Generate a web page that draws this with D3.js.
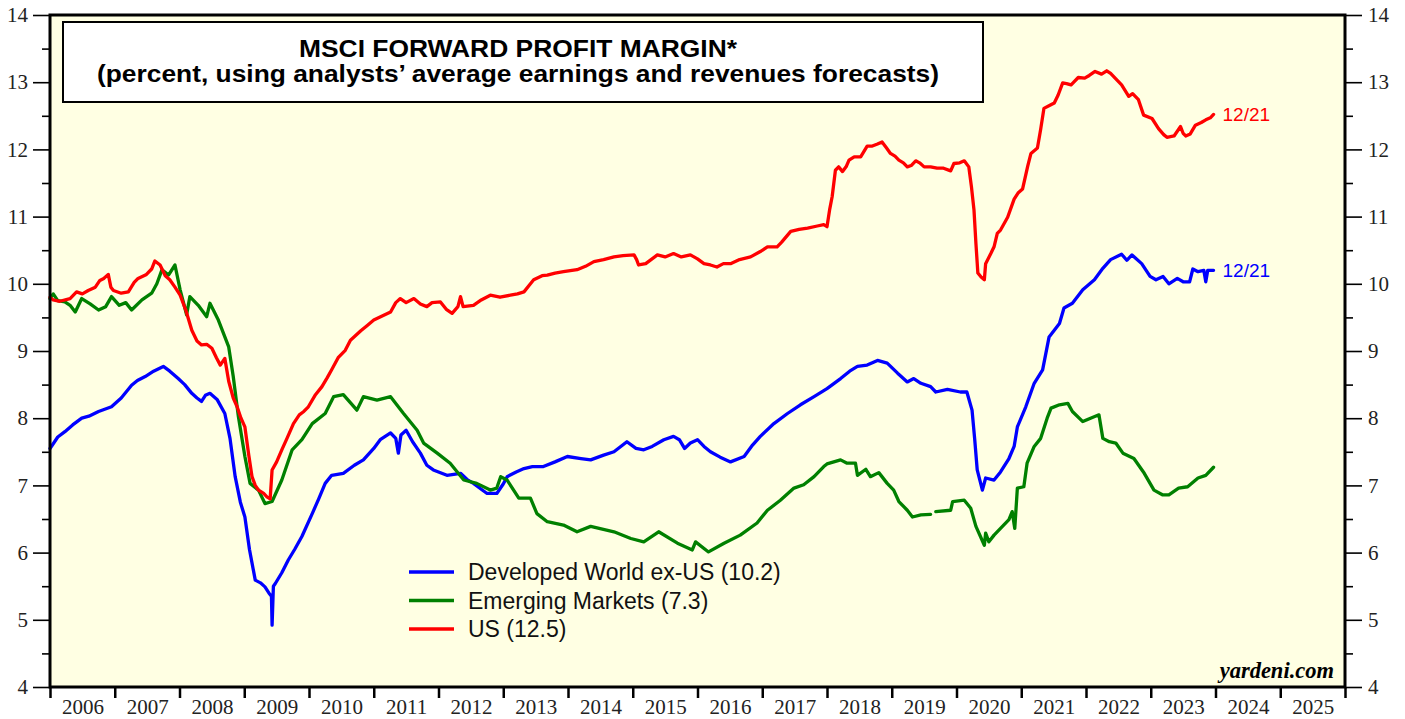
<!DOCTYPE html>
<html>
<head>
<meta charset="utf-8">
<script src="https://cdn.jsdelivr.net/npm/d3@7"></script>
<style>
  body { margin: 0; background: #fff; }
  svg { display: block; }
</style>
</head>
<body>
<div id="chart"></div>
<script>
// chart size
var svgWidth = 1405;
var svgHeight = 719;

// data: [decimal year, percent]
var usData = [
  [2006.00,9.80],[2006.05,9.76],[2006.15,9.74],[2006.31,9.78],[2006.41,9.88],[2006.50,9.85],[2006.59,9.90],
  [2006.70,9.95],[2006.77,10.05],[2006.83,10.08],[2006.90,10.14],[2006.94,9.95],[2006.98,9.90],[2007.10,9.86],
  [2007.21,9.88],[2007.30,10.02],[2007.36,10.08],[2007.49,10.14],[2007.57,10.22],[2007.62,10.34],[2007.70,10.28],
  [2007.78,10.12],[2007.85,10.06],[2007.93,9.95],[2008.01,9.83],[2008.10,9.60],[2008.19,9.31],[2008.27,9.15],
  [2008.34,9.09],[2008.42,9.10],[2008.50,9.04],[2008.57,8.90],[2008.63,8.79],[2008.70,8.89],[2008.76,8.55],
  [2008.83,8.30],[2008.89,8.17],[2008.95,8.00],[2009.01,7.87],[2009.07,7.45],[2009.12,7.13],[2009.17,7.00],
  [2009.22,6.93],[2009.30,6.88],[2009.35,6.83],[2009.40,6.80],[2009.43,7.23],[2009.50,7.35],[2009.58,7.53],
  [2009.66,7.70],[2009.76,7.92],[2009.85,8.05],[2009.92,8.10],[2009.99,8.17],[2010.10,8.35],[2010.20,8.47],
  [2010.28,8.60],[2010.35,8.72],[2010.45,8.90],[2010.56,9.01],[2010.64,9.16],[2010.80,9.30],[2010.90,9.38],
  [2011.00,9.46],[2011.13,9.52],[2011.26,9.58],[2011.34,9.72],[2011.41,9.78],[2011.50,9.72],[2011.62,9.78],
  [2011.72,9.70],[2011.82,9.66],[2011.90,9.72],[2012.03,9.73],[2012.12,9.62],[2012.21,9.56],[2012.30,9.66],
  [2012.34,9.81],[2012.38,9.66],[2012.54,9.68],[2012.66,9.76],[2012.80,9.83],[2012.95,9.80],[2013.11,9.83],
  [2013.22,9.85],[2013.32,9.88],[2013.42,10.00],[2013.47,10.06],[2013.60,10.12],[2013.68,10.13],[2013.80,10.16],
  [2013.93,10.18],[2014.14,10.21],[2014.27,10.26],[2014.40,10.33],[2014.55,10.36],[2014.71,10.40],[2014.85,10.42],
  [2015.02,10.43],[2015.06,10.36],[2015.09,10.28],[2015.20,10.30],[2015.38,10.43],[2015.50,10.40],[2015.63,10.45],
  [2015.75,10.40],[2015.89,10.43],[2016.00,10.37],[2016.10,10.30],[2016.20,10.28],[2016.30,10.25],[2016.40,10.30],
  [2016.51,10.30],[2016.65,10.36],[2016.82,10.40],[2016.97,10.48],[2017.08,10.55],[2017.23,10.55],[2017.30,10.62],
  [2017.44,10.78],[2017.57,10.81],[2017.70,10.83],[2017.85,10.86],[2017.95,10.88],[2018.00,10.85],[2018.04,11.10],
  [2018.08,11.30],[2018.13,11.69],[2018.18,11.74],[2018.24,11.67],[2018.30,11.75],[2018.34,11.84],[2018.42,11.89],
  [2018.52,11.89],[2018.62,12.05],[2018.70,12.05],[2018.78,12.08],[2018.85,12.11],[2018.92,12.02],[2018.98,11.94],
  [2019.05,11.90],[2019.11,11.84],[2019.18,11.80],[2019.24,11.74],[2019.30,11.76],[2019.37,11.83],[2019.43,11.80],
  [2019.50,11.74],[2019.60,11.74],[2019.70,11.72],[2019.80,11.72],[2019.91,11.68],[2019.96,11.79],[2020.05,11.80],
  [2020.12,11.83],[2020.19,11.74],[2020.23,11.45],[2020.27,11.10],[2020.30,10.60],[2020.33,10.16],[2020.38,10.10],
  [2020.43,10.06],[2020.45,10.30],[2020.53,10.45],[2020.58,10.55],[2020.63,10.75],[2020.68,10.80],[2020.79,10.99],
  [2020.89,11.26],[2020.95,11.35],[2021.02,11.41],[2021.10,11.75],[2021.15,11.94],[2021.25,12.02],[2021.30,12.30],
  [2021.35,12.61],[2021.45,12.66],[2021.51,12.69],[2021.57,12.81],[2021.64,12.99],[2021.70,12.98],[2021.77,12.96],
  [2021.88,13.07],[2021.98,13.06],[2022.05,13.10],[2022.14,13.16],[2022.24,13.12],[2022.32,13.17],[2022.38,13.13],
  [2022.45,13.06],[2022.55,12.96],[2022.66,12.79],[2022.72,12.83],[2022.81,12.74],[2022.89,12.51],[2023.02,12.46],
  [2023.12,12.31],[2023.20,12.22],[2023.25,12.18],[2023.36,12.20],[2023.46,12.34],[2023.50,12.24],[2023.54,12.20],
  [2023.61,12.23],[2023.69,12.36],[2023.78,12.40],[2023.85,12.44],[2023.92,12.47],[2023.97,12.52]
];

var dwData = [
  [2006.00,7.55],[2006.05,7.62],[2006.12,7.72],[2006.23,7.80],[2006.35,7.90],[2006.49,8.00],[2006.60,8.03],
  [2006.75,8.10],[2006.95,8.17],[2007.10,8.30],[2007.26,8.49],[2007.35,8.56],[2007.47,8.62],[2007.60,8.70],
  [2007.75,8.77],[2007.85,8.70],[2007.98,8.59],[2008.08,8.50],[2008.19,8.37],[2008.27,8.30],[2008.34,8.25],
  [2008.40,8.34],[2008.47,8.37],[2008.58,8.28],[2008.70,8.07],[2008.78,7.70],[2008.86,7.13],[2008.94,6.75],
  [2009.01,6.53],[2009.08,6.05],[2009.17,5.59],[2009.25,5.55],[2009.32,5.49],[2009.38,5.40],[2009.42,5.35],
  [2009.43,4.92],[2009.45,5.50],[2009.48,5.54],[2009.58,5.70],[2009.68,5.89],[2009.78,6.05],[2009.89,6.24],
  [2010.05,6.58],[2010.15,6.80],[2010.25,7.03],[2010.35,7.15],[2010.53,7.18],[2010.70,7.30],[2010.84,7.38],
  [2011.00,7.55],[2011.10,7.68],[2011.26,7.78],[2011.34,7.70],[2011.38,7.48],[2011.42,7.75],[2011.50,7.82],
  [2011.60,7.65],[2011.72,7.48],[2011.82,7.30],[2011.92,7.23],[2012.13,7.15],[2012.34,7.18],[2012.45,7.08],
  [2012.54,7.03],[2012.65,6.95],[2012.75,6.88],[2012.90,6.88],[2013.00,7.02],[2013.06,7.13],[2013.20,7.20],
  [2013.32,7.25],[2013.45,7.28],[2013.62,7.28],[2013.80,7.35],[2013.99,7.43],[2014.20,7.40],[2014.35,7.38],
  [2014.55,7.45],[2014.71,7.50],[2014.91,7.65],[2015.05,7.55],[2015.17,7.53],[2015.30,7.58],[2015.48,7.68],
  [2015.63,7.73],[2015.72,7.68],[2015.80,7.55],[2015.89,7.63],[2016.00,7.68],[2016.10,7.58],[2016.20,7.50],
  [2016.35,7.42],[2016.51,7.35],[2016.72,7.43],[2016.85,7.60],[2016.97,7.73],[2017.18,7.92],[2017.39,8.07],
  [2017.59,8.20],[2017.80,8.32],[2018.00,8.44],[2018.21,8.59],[2018.35,8.70],[2018.47,8.77],[2018.62,8.79],
  [2018.78,8.86],[2018.93,8.82],[2019.09,8.67],[2019.24,8.54],[2019.34,8.59],[2019.45,8.52],[2019.60,8.47],
  [2019.68,8.39],[2019.86,8.43],[2020.06,8.39],[2020.16,8.39],[2020.24,8.12],[2020.28,7.70],[2020.32,7.23],
  [2020.40,6.93],[2020.45,7.11],[2020.58,7.08],[2020.68,7.20],[2020.81,7.40],[2020.89,7.58],[2020.94,7.87],
  [2021.07,8.17],[2021.20,8.52],[2021.33,8.72],[2021.43,9.21],[2021.59,9.41],[2021.66,9.64],[2021.79,9.71],
  [2021.95,9.91],[2022.13,10.06],[2022.26,10.23],[2022.38,10.36],[2022.55,10.44],[2022.63,10.35],[2022.71,10.43],
  [2022.86,10.30],[2022.99,10.11],[2023.08,10.06],[2023.19,10.11],[2023.28,10.00],[2023.41,10.08],[2023.50,10.03],
  [2023.60,10.03],[2023.65,10.22],[2023.73,10.18],[2023.82,10.20],[2023.85,10.03],[2023.88,10.20],[2023.97,10.20]
];

var emData = [
  [2006.00,9.78],[2006.05,9.85],[2006.12,9.75],[2006.23,9.73],[2006.31,9.68],[2006.39,9.58],[2006.49,9.78],
  [2006.62,9.70],[2006.75,9.61],[2006.86,9.66],[2006.95,9.81],[2007.07,9.68],[2007.17,9.72],[2007.26,9.61],
  [2007.42,9.76],[2007.57,9.86],[2007.65,10.00],[2007.73,10.21],[2007.83,10.13],[2007.93,10.28],[2008.01,9.91],
  [2008.11,9.54],[2008.16,9.81],[2008.29,9.68],[2008.42,9.51],[2008.47,9.71],[2008.60,9.46],[2008.76,9.06],
  [2008.83,8.62],[2008.91,8.02],[2009.01,7.43],[2009.09,7.03],[2009.22,6.93],[2009.32,6.73],[2009.43,6.76],
  [2009.58,7.08],[2009.74,7.53],[2009.89,7.68],[2010.05,7.92],[2010.25,8.07],[2010.38,8.32],[2010.53,8.35],
  [2010.74,8.12],[2010.84,8.32],[2011.05,8.27],[2011.26,8.32],[2011.46,8.07],[2011.67,7.82],[2011.77,7.63],
  [2011.98,7.48],[2012.18,7.33],[2012.39,7.08],[2012.59,7.03],[2012.80,6.93],[2012.90,6.96],[2012.96,7.13],
  [2013.06,7.08],[2013.24,6.81],[2013.42,6.81],[2013.52,6.58],[2013.68,6.46],[2013.93,6.41],[2014.14,6.31],
  [2014.35,6.39],[2014.71,6.31],[2014.97,6.21],[2015.17,6.16],[2015.40,6.31],[2015.69,6.14],[2015.92,6.04],
  [2015.97,6.16],[2016.17,6.01],[2016.41,6.14],[2016.66,6.26],[2016.92,6.44],[2017.08,6.63],[2017.28,6.78],
  [2017.49,6.96],[2017.64,7.01],[2017.80,7.13],[2017.95,7.28],[2018.00,7.32],[2018.21,7.38],[2018.31,7.33],
  [2018.44,7.33],[2018.47,7.15],[2018.60,7.24],[2018.67,7.13],[2018.80,7.19],[2018.93,7.03],[2019.03,6.93],
  [2019.11,6.76],[2019.24,6.63],[2019.32,6.53],[2019.45,6.56],[2019.60,6.57],[2019.64,null],[2019.68,6.61],
  [2019.91,6.63],[2019.94,6.76],[2020.12,6.78],[2020.22,6.66],[2020.30,6.39],[2020.43,6.11],[2020.45,6.29],
  [2020.50,6.16],[2020.58,6.26],[2020.68,6.36],[2020.81,6.49],[2020.86,6.61],[2020.90,6.36],[2020.94,6.96],
  [2021.04,6.98],[2021.09,7.33],[2021.20,7.58],[2021.30,7.70],[2021.40,8.00],[2021.46,8.15],[2021.59,8.20],
  [2021.72,8.22],[2021.79,8.10],[2021.95,7.95],[2022.07,8.00],[2022.20,8.05],[2022.26,7.70],[2022.36,7.65],
  [2022.46,7.63],[2022.57,7.48],[2022.74,7.40],[2022.90,7.18],[2023.05,6.93],[2023.18,6.86],[2023.28,6.86],
  [2023.43,6.96],[2023.57,6.98],[2023.73,7.11],[2023.85,7.15],[2023.97,7.27]
];

var seriesNames = ["Developed World ex-US (10.2)", "Emerging Markets (7.3)", "US (12.5)"];
var seriesColors = ["#0000ff", "#008000", "#ff0000"];
var years = d3.range(2006, 2026);
var endLabel = "12/21";
var titleLines = ["MSCI FORWARD PROFIT MARGIN*", "(percent, using analysts\u2019 average earnings and revenues forecasts)"];

var svg = d3.select('#chart')
    .append("svg")
    .attr("width", svgWidth)
    .attr("height", svgHeight);

// plot frame edges (pixels)
var plotL = 50, plotR = 1345, plotT = 15, plotB = 687;

var x = d3.scaleLinear().domain([2006, 2026]).range([plotL, plotR]);
var y = d3.scaleLinear().domain([4, 14]).range([plotB, plotT]);

// plot background
svg.append('rect')
    .attr('x', plotL).attr('y', plotT)
    .attr('width', plotR - plotL).attr('height', plotB - plotT)
    .attr('fill', '#ffffe3');

// y axes (major + minor ticks, both sides)
var majors = d3.range(4, 15);
var minors = d3.range(4.5, 14, 1);

function styleAxis(g){
    g.select('.domain').remove();
    g.selectAll('line').attr('stroke', '#000').attr('stroke-width', 1.6);
    g.selectAll('text')
        .style('font-family', '"Liberation Serif", "Times New Roman", serif')
        .style('font-size', '21px')
        .attr('fill', '#222');
}

svg.append('g').attr('transform', 'translate(' + plotL + ',0)')
    .call(d3.axisLeft(y).tickValues(majors).tickSize(17).tickPadding(5).tickFormat(d3.format('d')))
    .call(styleAxis);
svg.append('g').attr('transform', 'translate(' + plotL + ',0)')
    .call(d3.axisLeft(y).tickValues(minors).tickSize(8).tickFormat(''))
    .call(styleAxis);
svg.append('g').attr('transform', 'translate(' + plotR + ',0)')
    .call(d3.axisRight(y).tickValues(majors).tickSize(17).tickPadding(6).tickFormat(d3.format('d')))
    .call(styleAxis);
svg.append('g').attr('transform', 'translate(' + plotR + ',0)')
    .call(d3.axisRight(y).tickValues(minors).tickSize(8).tickFormat(''))
    .call(styleAxis);

// x axis: year boundaries as ticks, year labels centred in between
svg.append('g').attr('transform', 'translate(0,' + plotB + ')')
    .call(d3.axisBottom(x).tickValues(d3.range(2006, 2027)).tickSize(11).tickFormat(''))
    .call(styleAxis)
    .selectAll('line').attr('stroke-width', 2.5);
svg.append('g').attr('transform', 'translate(0,' + plotB + ')')
    .call(d3.axisBottom(x).tickValues(years.map(function(d){ return d + 0.5; })).tickSize(0).tickPadding(12)
        .tickFormat(function(d){ return Math.floor(d); }))
    .call(styleAxis);

// lines
var line = d3.line()
    .defined(function(d){ return d[1] !== null; })
    .x(function(d){ return x(d[0]); })
    .y(function(d){ return y(d[1]); });

var plot = svg.append('g');
[dwData, emData, usData].forEach(function(data, i){
    plot.append('path')
        .datum(data)
        .attr('fill', 'none')
        .attr('stroke', seriesColors[i])
        .attr('stroke-width', 3.3)
        .attr('stroke-linejoin', 'round')
        .attr('stroke-linecap', 'round')
        .attr('d', line);
});

// end labels
[[dwData, 0], [usData, 2]].forEach(function(p){
    var last = p[0][p[0].length - 1];
    svg.append('text')
        .attr('x', x(last[0]) + 9)
        .attr('y', y(last[1]))
        .attr('dy', '0.35em')
        .attr('fill', seriesColors[p[1]])
        .style('font-family', '"Liberation Sans", Arial, sans-serif')
        .style('font-size', '19px')
        .text(endLabel);
});

// title box
svg.append('rect')
    .attr('x', 63).attr('y', 22).attr('width', 920).attr('height', 80)
    .attr('fill', '#fff').attr('stroke', '#000').attr('stroke-width', 2);
svg.selectAll('text.title')
    .data(titleLines)
    .enter()
    .append('text')
    .attr('class', 'title')
    .attr('x', 518)
    .attr('y', function(d, i){ return 57 + i * 25; })
    .attr('text-anchor', 'middle')
    .attr('textLength', function(d, i){ return i === 0 ? 438 : 842; })
    .attr('lengthAdjust', 'spacingAndGlyphs')
    .style('font-family', '"Liberation Sans", Arial, sans-serif')
    .style('font-size', '24px').style('font-weight', 'bold')
    .text(function(d){ return d; });

// legend
var legend = svg.append('g').attr('transform', 'translate(409,572)');
seriesNames.forEach(function(name, i){
    var row = legend.append('g').attr('transform', 'translate(0,' + (i * 28.5) + ')');
    row.append('line').attr('x1', 0).attr('x2', 45)
        .attr('stroke', seriesColors[i]).attr('stroke-width', 3.3);
    row.append('text').attr('x', 59).attr('dy', '0.35em')
        .attr('fill', '#111')
        .style('font-family', '"Liberation Sans", Arial, sans-serif')
        .style('font-size', '23px')
        .text(name);
});

// source
svg.append('text')
    .attr('x', 1334).attr('y', 678)
    .attr('text-anchor', 'end')
    .style('font-family', '"Liberation Serif", "Times New Roman", serif')
    .style('font-size', '22.5px').style('font-weight', 'bold').style('font-style', 'italic')
    .text('yardeni.com');

// frame on top
svg.append('rect')
    .attr('x', plotL).attr('y', plotT)
    .attr('width', plotR - plotL).attr('height', plotB - plotT)
    .attr('fill', 'none').attr('stroke', '#000').attr('stroke-width', 3);
</script>
</body>
</html>
